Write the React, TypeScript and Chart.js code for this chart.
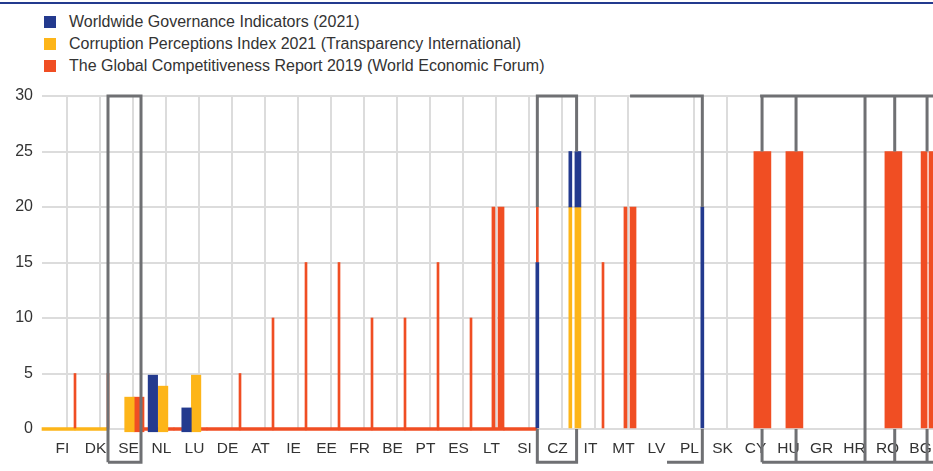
import React, { useEffect, useRef } from 'react';
import { Chart, registerables } from 'chart.js';

Chart.register(...registerables);

// ---------- data ----------
const categories = ['FI', 'DK', 'SE', 'NL', 'LU', 'DE', 'AT', 'IE', 'EE', 'FR', 'BE', 'PT', 'ES', 'LT', 'SI', 'CZ', 'IT', 'MT', 'LV', 'PL', 'SK', 'CY', 'HU', 'GR', 'HR', 'RO', 'BG'];
const yTicks = [0, 5, 10, 15, 20, 25, 30];
const seriesNames = [
  'Worldwide Governance Indicators (2021)',
  'Corruption Perceptions Index 2021 (Transparency International)',
  'The Global Competitiveness Report 2019 (World Economic Forum)',
];

// marks: [x in category units, low value, high value]
// Worldwide Governance Indicators (2021)
const wgiBars: [number, number, number][] = [[3.36, -0.25, 4.85], [4.38, -0.25, 1.9]];
const wgiThin: [number, number, number][] = [[15.01, 0, 15], [16.01, 20, 25], [20.01, 0, 20]];
const wgiMid: [number, number, number][] = [[16.24, 20, 25]];

// Corruption Perceptions Index 2021
const cpiBars: [number, number, number][] = [[2.65, -0.25, 2.87], [3.67, -0.25, 3.86], [4.67, -0.25, 4.85]];
const cpiThin: [number, number, number][] = [[16.01, 0, 20]];
const cpiMid: [number, number, number][] = [[16.24, 0, 20]];
const cpiBaseline = ['FI', 'DK'];

// Global Competitiveness Report 2019
const gcrBars: [number, number, number][] = [[2.94, -0.25, 2.87]];
const gcrLines: [number, number, number][] = [
  [1, 0, 5], [2, 0, 5], [6, 0, 5], [7, 0, 10], [8, 0, 15], [9, 0, 15], [10, 0, 10],
  [11, 0, 10], [12, 0, 15], [13, 0, 10], [15.01, 15, 20], [17, 0, 15],
];
const gcrThin: [number, number, number][] = [[13.68, 0, 20], [17.68, 0, 20]];
const gcrMid: [number, number, number][] = [[13.91, 0, 20], [17.91, 0, 20], [26.73, 0, 25], [26.97, 0, 25]];
const gcrWide: [number, number, number][] = [[21.83, 0, 25], [22.8, 0, 25], [25.8, 0, 25]];
const gcrBaseline = ['NL', 'LU', 'DE', 'AT', 'IE', 'EE', 'FR', 'BE', 'PT', 'ES', 'LT', 'SI'];
const baselineHalf = 0.12;

// grey bracket outlines: polylines of [x in category units, value]
const bracketPaths: [number, number][][] = [
  [[2, -3], [2, 30], [3, 30], [3, -3], [2, -3]],
  [[15.01, 20], [15.01, 30], [16.2, 30], [16.2, 25]],
  [[15.01, 0], [15.01, -3], [16.2, -3], [16.2, 0]],
  [[17.82, 30], [20.01, 30], [20.01, 20]],
  [[18.94, -3], [20.01, -3], [20.01, 0]],
  [[21.76, 30], [27.3, 30]],
  [[21.82, 30], [21.82, 25]],
  [[22.85, 30], [22.85, 25]],
  [[24.94, 30], [24.94, -3]],
  [[25.84, 30], [25.84, 25]],
  [[26.82, 30], [26.82, 25]],
  [[21.82, -3], [27.3, -3]],
  [[21.82, 0], [21.82, -3]],
  [[22.85, 0], [22.85, -3]],
  [[25.84, 0], [25.84, -3]],
  [[26.82, 0], [26.82, -3]],
];
// category boundaries without a visible grid line in the source
const hiddenGridBoundaries = [19, 22, 23, 24, 25, 26, 27];

// ---------- styles ----------
const BLUE = '#233a8e';
const YELLOW = '#fdb519';
const RED = '#f04e23';
const GREY = '#6f7073';
const GRID = '#dcdcdc';
const FONT = '"Liberation Sans", Arial, sans-serif';
const seriesColors = [BLUE, YELLOW, RED];

export default function App() {
  const canvasRef = useRef<HTMLCanvasElement>(null);

  useEffect(() => {
    document.body.style.margin = '0';
    const canvas = canvasRef.current;
    if (!canvas) return;

    const bar = (marks: [number, number, number][], color: string, thickness: number, order: number) => ({
      type: 'bar' as const,
      data: marks.map(([x, lo, hi]) => ({ x, y: [lo, hi] })),
      backgroundColor: color,
      borderWidth: 0,
      barThickness: thickness,
      grouped: false,
      clip: false as any,
      order,
    });
    const baseline = (cats: string[], color: string, order: number) =>
      bar(cats.map((c) => [categories.indexOf(c) + 0.5, -baselineHalf, baselineHalf] as [number, number, number]), color, 33, order);

    const bracketData: any[] = [];
    bracketPaths.forEach((path) => {
      path.forEach(([x, y]) => bracketData.push({ x, y }));
      bracketData.push({ x: path[path.length - 1][0], y: null });
    });

    const halfTicks = Array.from({ length: categories.length * 2 + 1 }, (_, i) => i / 2);

    const chart = new Chart(canvas, {
      type: 'bar',
      data: {
        datasets: [
          {
            type: 'line',
            data: bracketData,
            borderColor: GREY,
            borderWidth: 3,
            pointRadius: 0,
            fill: false,
            tension: 0,
            spanGaps: false,
            borderJoinStyle: 'miter',
            clip: false as any,
            order: 0,
          } as any,
          bar(wgiBars, BLUE, 9.5, 1),
          bar(wgiThin, BLUE, 3, 1),
          bar(wgiMid, BLUE, 6, 1),
          bar(cpiBars, YELLOW, 9.5, 1),
          bar(cpiThin, YELLOW, 3, 1),
          bar(cpiMid, YELLOW, 6, 1),
          bar(gcrBars, RED, 10, 1),
          bar(gcrLines, RED, 2, 1),
          bar(gcrThin, RED, 3, 1),
          bar(gcrMid, RED, 6, 1),
          bar(gcrWide, RED, 17, 1),
          baseline(cpiBaseline, YELLOW, 2),
          baseline(gcrBaseline, RED, 2),
        ] as any,
      },
      options: {
        responsive: false,
        animation: false,
        devicePixelRatio: 1,
        events: [],
        layout: { padding: { top: 96, left: 0, right: 0, bottom: 0 } },
        plugins: { legend: { display: false }, tooltip: { enabled: false }, title: { display: false } },
        scales: {
          x: {
            type: 'linear',
            min: 0,
            max: categories.length,
            offset: false,
            afterBuildTicks: (scale: any) => {
              scale.ticks = halfTicks.map((value) => ({ value }));
            },
            afterFit: (scale: any) => {
              scale.height = 42;
              scale.paddingLeft = 0;
              scale.paddingRight = 0;
            },
            border: { display: false },
            grid: {
              drawTicks: false,
              lineWidth: 2,
              color: (ctx: any) => {
                const v = ctx.tick ? ctx.tick.value : -1;
                return Number.isInteger(v) && !hiddenGridBoundaries.includes(v) ? GRID : 'rgba(0,0,0,0)';
              },
            },
            ticks: {
              autoSkip: false,
              maxRotation: 0,
              minRotation: 0,
              padding: 10,
              labelOffset: 4,
              color: '#333333',
              font: { family: FONT, size: 15.5 },
              callback: (value: any) => (Number.isInteger(value) ? '' : categories[Math.floor(value)]),
            },
          },
          y: {
            type: 'linear',
            min: yTicks[0],
            max: yTicks[yTicks.length - 1],
            afterBuildTicks: (scale: any) => {
              scale.ticks = yTicks.map((value) => ({ value }));
            },
            afterFit: (scale: any) => {
              scale.width = 42;
              scale.paddingTop = 0;
              scale.paddingBottom = 0;
            },
            border: { display: false },
            grid: { drawTicks: false, lineWidth: 2, color: GRID },
            ticks: {
              padding: 9,
              color: '#333333',
              font: { family: FONT, size: 16 },
            },
          },
        },
      } as any,
    });

    return () => chart.destroy();
  }, []);

  return (
    <div style={{ position: 'relative', width: 933, height: 471, overflow: 'hidden', background: '#fff' }}>
      <div style={{ position: 'absolute', left: 0, top: 2, width: 933, height: 2, background: BLUE }} />
      {seriesNames.map((name, i) => (
        <div
          key={name}
          style={{
            position: 'absolute',
            left: 44,
            top: 11 + i * 22,
            height: 22,
            display: 'flex',
            alignItems: 'center',
            fontFamily: FONT,
            fontSize: 16,
            color: '#333333',
            whiteSpace: 'nowrap',
          }}
        >
          <span style={{ display: 'inline-block', width: 12, height: 12, background: seriesColors[i], marginRight: 13 }} />
          <span>{name}</span>
        </div>
      ))}
      <canvas ref={canvasRef} width={933} height={471} style={{ position: 'absolute', left: 0, top: 0, display: 'block' }} />
    </div>
  );
}
